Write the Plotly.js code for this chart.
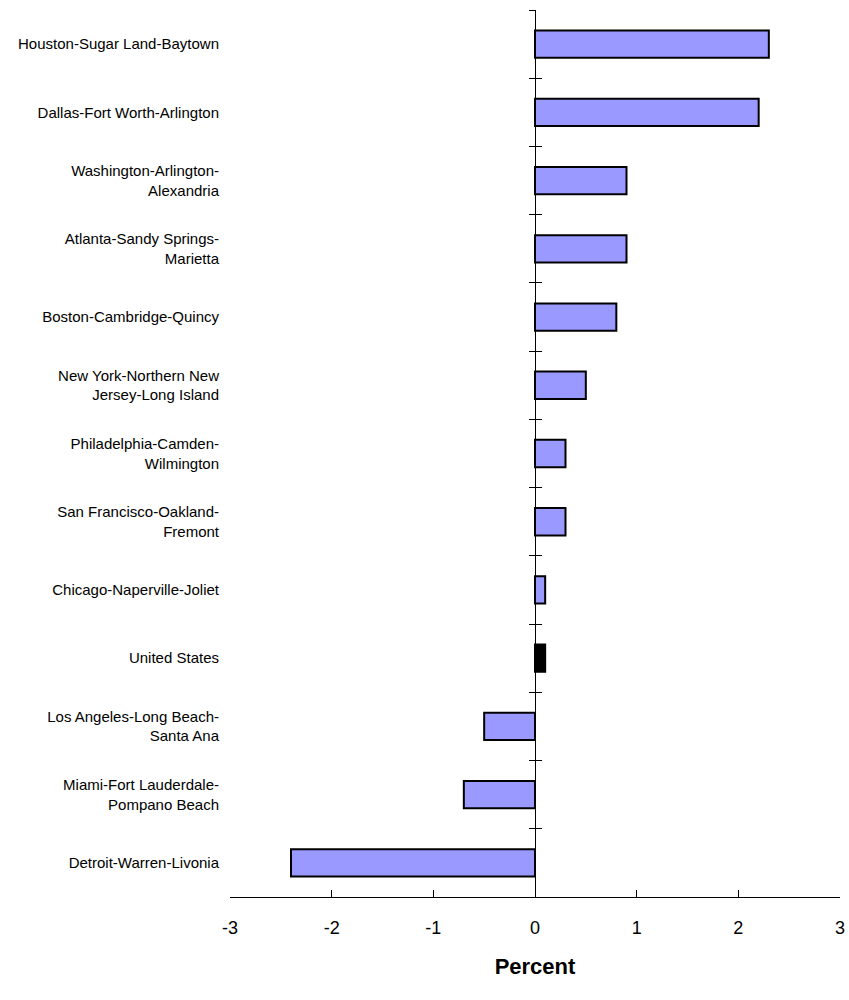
<!DOCTYPE html>
<html><head><meta charset="utf-8">
<script src="https://cdn.plot.ly/plotly-3.0.1.min.js"></script>
<style>html,body{margin:0;padding:0;background:#fff;}</style>
</head><body>
<div id="chart" style="width:849px;height:1000px;"></div>
<script>
const categories = [
  "Houston-Sugar Land-Baytown",
  "Dallas-Fort Worth-Arlington",
  "Washington-Arlington-<br>Alexandria",
  "Atlanta-Sandy Springs-<br>Marietta",
  "Boston-Cambridge-Quincy",
  "New York-Northern New<br>Jersey-Long Island",
  "Philadelphia-Camden-<br>Wilmington",
  "San Francisco-Oakland-<br>Fremont",
  "Chicago-Naperville-Joliet",
  "United States",
  "Los Angeles-Long Beach-<br>Santa Ana",
  "Miami-Fort Lauderdale-<br>Pompano Beach",
  "Detroit-Warren-Livonia"
];
const values = [2.3, 2.2, 0.9, 0.9, 0.8, 0.5, 0.3, 0.3, 0.1, 0.1, -0.5, -0.7, -2.4];
const xTicks = [-3, -2, -1, 0, 1, 2, 3];

const colors = categories.map(c => c === "United States" ? "#000000" : "#9999FF");

const font = "Liberation Sans, Arial, sans-serif";
const yRange = [categories.length - 0.5, -0.5];

const traces = [
  {
    type: "bar", orientation: "h",
    x: values, y: categories,
    width: 0.4,
    marker: {color: colors, line: {color: "#000000", width: 2}},
    hoverinfo: "x+y", showlegend: false
  },
  {
    type: "scatter", mode: "markers", x: values.map(() => 0), y: categories,
    yaxis: "y2", marker: {opacity: 0}, hoverinfo: "skip", showlegend: false
  },
  {
    type: "scatter", mode: "markers", x: values.map(() => 0), y: categories,
    yaxis: "y3", marker: {opacity: 0}, hoverinfo: "skip", showlegend: false
  }
];

const layout = {
  width: 849, height: 1000,
  margin: {l: 230, r: 9, t: 10, b: 103},
  paper_bgcolor: "#ffffff", plot_bgcolor: "#ffffff",
  font: {family: font, color: "#000000"},
  barmode: "overlay",
  xaxis: {
    range: [-3, 3], tickvals: xTicks, ticktext: xTicks.map(String),
    showgrid: false, zeroline: false,
    showline: true, linecolor: "#000000", linewidth: 1,
    ticks: "inside", ticklen: 7, tickcolor: "#000000", tickwidth: 1,
    ticklabelstandoff: 14,
    tickfont: {size: 18, family: font},
    title: {text: "<b>Percent</b>", font: {size: 22, family: font}, standoff: 22}
  },
  yaxis: {
    type: "category", categoryarray: categories, range: yRange, autorange: false,
    showgrid: false, zeroline: false, showline: false, ticks: "",
    ticklabelstandoff: 10,
    tickfont: {size: 15, family: font}
  },
  yaxis2: {
    type: "category", matches: "y", overlaying: "y", anchor: "free", position: 0.5,
    showgrid: false, zeroline: false, showline: true, linecolor: "#000000", linewidth: 1,
    ticks: "outside", ticklen: 6, tickcolor: "#000000", tickson: "boundaries",
    showticklabels: false
  },
  yaxis3: {
    type: "category", matches: "y", overlaying: "y", anchor: "free", position: 0.5,
    showgrid: false, zeroline: false, showline: false,
    ticks: "inside", ticklen: 6, tickcolor: "#000000", tickson: "boundaries",
    showticklabels: false
  }
};

Plotly.newPlot("chart", traces, layout, {displayModeBar: false, staticPlot: true});
</script>
</body></html>
